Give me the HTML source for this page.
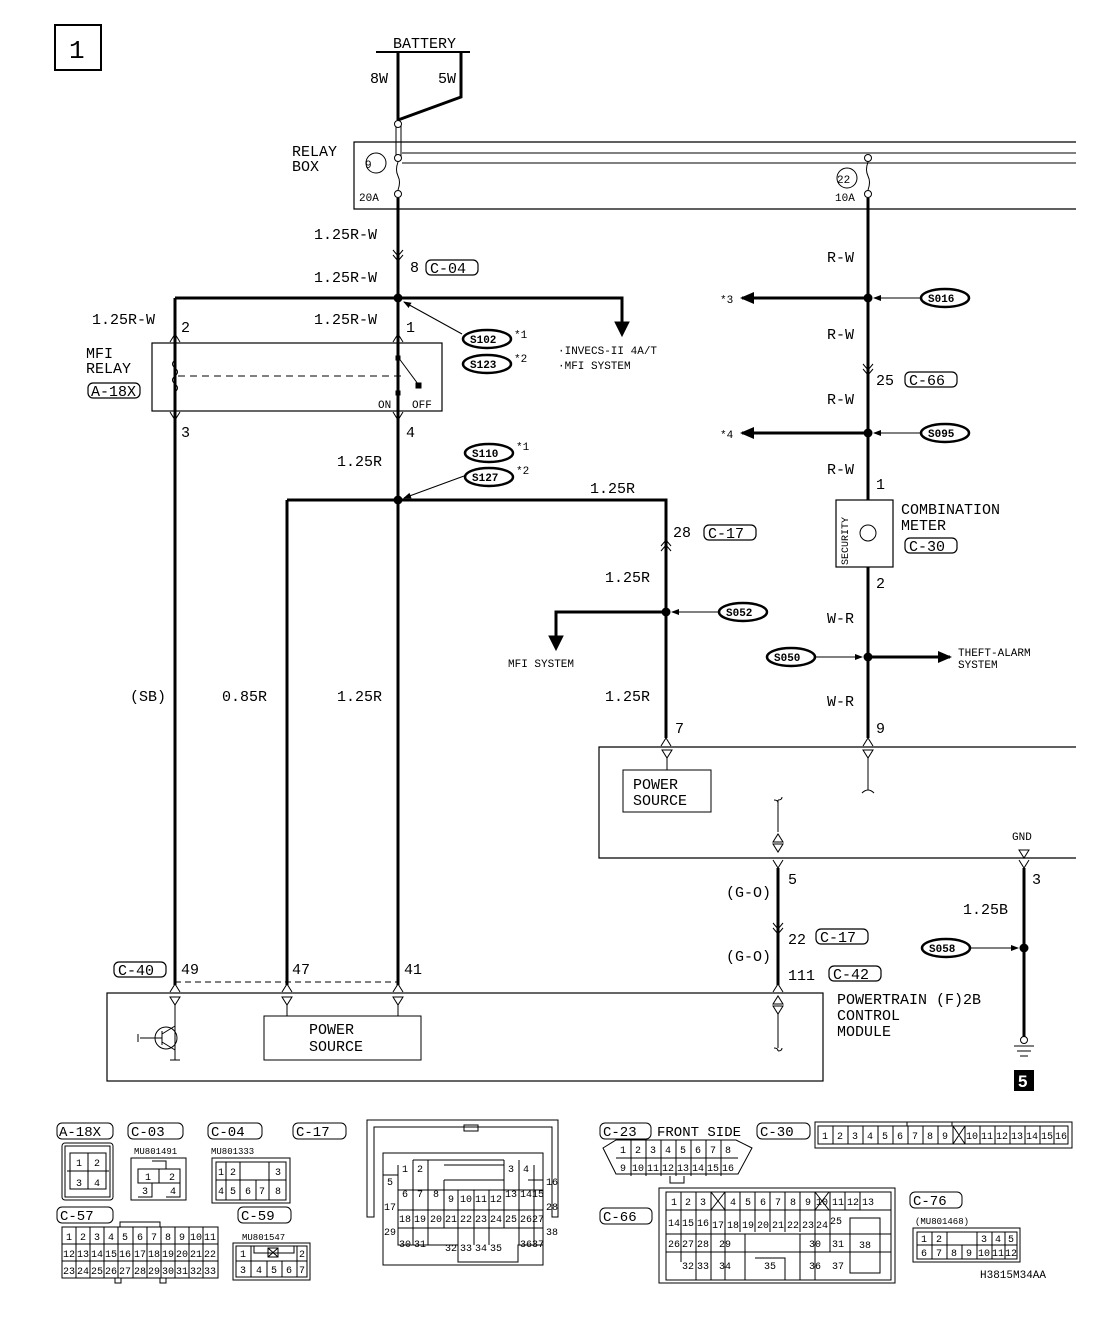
<!DOCTYPE html>
<html><head><meta charset="utf-8"><style>
html,body{margin:0;padding:0;background:#fff}
svg{display:block}
text{font-family:"Liberation Mono",monospace;fill:#000}
.t{font-size:15px}
.s{font-size:11px}
.c{font-size:10px;text-anchor:middle}
</style></head><body>
<svg width="1120" height="1318" viewBox="0 0 1120 1318" xmlns="http://www.w3.org/2000/svg">
<defs>
<marker id="ah" markerWidth="8" markerHeight="8" refX="7" refY="4" orient="auto" markerUnits="userSpaceOnUse"><path d="M0,1 L8,4 L0,7 z"/></marker>
<marker id="ab" markerWidth="14" markerHeight="12" refX="12" refY="6" orient="auto" markerUnits="userSpaceOnUse"><path d="M0,0 L14,6 L0,12 z"/></marker>
</defs>
<g fill="none" stroke="#000">
<!-- box 1 -->
<rect x="55" y="25" width="46" height="45" stroke-width="2"/>
<!-- battery -->
<line x1="376" y1="52" x2="470" y2="52" stroke-width="2"/>
<path d="M398,52 V120 M461,52 V97 L398,120" stroke-width="3"/>
<path d="M396,124 V157 M401,124 V157" stroke-width="1"/>
<circle cx="398" cy="124" r="3.5" fill="#fff"/>
<circle cx="398" cy="158" r="3.5" fill="#fff"/>
<circle cx="398" cy="194" r="3.5" fill="#fff"/>
<path d="M398,162 q-3,8 0,14 q3,6 0,14"/>
<!-- relay box -->
<path d="M1076,142 H354 V209 H1076" stroke-width="1.2"/>
<path d="M402,153 H1076 M402,163 H1076"/>
<circle cx="376" cy="163" r="10"/>
<circle cx="847" cy="178" r="10"/>
<circle cx="868" cy="158" r="3.5" fill="#fff"/>
<circle cx="868" cy="194" r="3.5" fill="#fff"/>
<path d="M868,162 q-3,8 0,14 q3,6 0,14"/>
<!-- main wires -->
<path d="M398,198 V985 M175,298 V985 M287,500 V985 M398,298 H622 V325 M287,500 H666 V738 M666,612 H556 V640 M868,198 V500 M868,567 V738 M778,868 V985 M1024,868 V1038" stroke-width="3"/>
<path d="M175,298 H398" stroke-width="3"/>
<path d="M615,322 L622,336 L629,322 z" fill="#000"/>
<path d="M549,636 L556,650 L563,636 z" fill="#000"/>
<line x1="868" y1="298" x2="742" y2="298" stroke-width="3" marker-end="url(#ab)"/>
<line x1="868" y1="433" x2="742" y2="433" stroke-width="3" marker-end="url(#ab)"/>
<line x1="868" y1="657" x2="950" y2="657" stroke-width="3" marker-end="url(#ab)"/>
<!-- wire markers -->
<path d="M393,250 l5,6 l5,-6 M393,255 l5,6 l5,-6 M661,546 l5,-6 l5,6 M661,551 l5,-6 l5,6 M863,364 l5,6 l5,-6 M863,369 l5,6 l5,-6 M773,923 l5,6 l5,-6 M773,928 l5,6 l5,-6"/>
<!-- connector forks -->
<path d="M170,342 l5,-8 l5,8 M393,342 l5,-8 l5,8 M170,412 l5,8 l5,-8 M393,412 l5,8 l5,-8 M661,746 l5,-8 l5,8 M863,746 l5,-8 l5,8 M773,860 l5,8 l5,-8 M1019,860 l5,8 l5,-8 M773,992 l5,-8 l5,8 M170,992 l5,-8 l5,8 M282,992 l5,-8 l5,8 M393,992 l5,-8 l5,8"/>
<!-- junction dots -->
<circle cx="398" cy="298" r="4" fill="#000"/>
<circle cx="398" cy="500" r="4" fill="#000"/>
<circle cx="666" cy="612" r="4" fill="#000"/>
<circle cx="868" cy="298" r="4" fill="#000"/>
<circle cx="868" cy="433" r="4" fill="#000"/>
<circle cx="868" cy="657" r="4" fill="#000"/>
<circle cx="1024" cy="948" r="4" fill="#000"/>
<!-- splice ellipses -->
<g stroke-width="2.5">
<ellipse cx="487" cy="339" rx="24" ry="9"/><ellipse cx="487" cy="364" rx="24" ry="9"/>
<ellipse cx="489" cy="453" rx="24" ry="9"/><ellipse cx="489" cy="477" rx="24" ry="9"/>
<ellipse cx="743" cy="612" rx="24" ry="9"/><ellipse cx="945" cy="298" rx="24" ry="9"/>
<ellipse cx="945" cy="433" rx="24" ry="9"/><ellipse cx="791" cy="657" rx="24" ry="9"/>
<ellipse cx="946" cy="948" rx="24" ry="9"/>
</g>
<line x1="462" y1="334" x2="404" y2="302" marker-end="url(#ah)"/>
<line x1="464" y1="476" x2="404" y2="498" marker-end="url(#ah)"/>
<line x1="718" y1="612" x2="672" y2="612" marker-end="url(#ah)"/>
<line x1="920" y1="298" x2="874" y2="298" marker-end="url(#ah)"/>
<line x1="920" y1="433" x2="874" y2="433" marker-end="url(#ah)"/>
<line x1="816" y1="657" x2="862" y2="657" marker-end="url(#ah)"/>
<line x1="971" y1="948" x2="1018" y2="948" marker-end="url(#ah)"/>
<!-- MFI relay -->
<rect x="152" y="343" width="290" height="68" stroke-width="1.2"/>
<path d="M175,350 v10 q-5,4 0,8 q5,4 0,8 q-5,4 0,8 q5,4 0,8 v10" />
<path d="M178,376 H402" stroke-dasharray="7,5"/>
<path d="M398,350 V357 L418,384 M398,390 V404"/>
<rect x="396" y="356" width="4" height="4" fill="#000"/><rect x="416" y="383" width="5" height="5" fill="#000"/><rect x="396" y="391" width="4" height="4" fill="#000"/>
<!-- combination meter -->
<rect x="836" y="500" width="57" height="67" stroke-width="1.2"/>
<circle cx="868" cy="533" r="8"/>
<!-- module top -->
<path d="M1076,747 H599 V858 H1076" stroke-width="1.2"/>
<rect x="623" y="770" width="88" height="42"/>
<path d="M662,750 h10 l-5,8 z M667,758 V770 M863,750 h10 l-5,8 z M868,758 V790 q-3,0 -6,3 M868,790 q3,0 6,3 M778,800 V832 M774,800 q4,0 4,3 M778,800 q4,0 4,-3 M773,842 h10 l-5,-8 z M773,844 h10 l-5,8 z M1019,850 h10 l-5,8 z"/>
<!-- PCM -->
<rect x="107" y="993" width="716" height="88" stroke-width="1.2"/>
<rect x="264" y="1016" width="157" height="44"/>
<path d="M175,982 H398" stroke-dasharray="6,4"/>
<path d="M170,997 h10 l-5,8 z M175,1005 V1050 M282,997 h10 l-5,8 z M287,1005 V1016 M393,997 h10 l-5,8 z M398,1005 V1016 M773,1004 h10 l-5,-8 z M773,1006 h10 l-5,8 z M778,1014 V1048 M774,1048 q4,0 4,3 M778,1051 q4,0 4,-3"/>
<circle cx="166" cy="1038" r="11"/>
<path d="M140,1038 H162 M162,1031 V1045 M162,1034 L175,1026 M162,1042 L175,1050 M175,1050 V1060 M170,1060 h10 M138,1034 v8"/>
<!-- ground -->
<circle cx="1024" cy="1040" r="3.5" fill="#fff"/>
<path d="M1014,1046 h20 M1017,1051 h14 M1020,1056 h8"/>
</g>
<rect x="1014" y="1070" width="20" height="21" fill="#000"/>
<text x="1018" y="1087" style="font-size:17px;font-weight:bold;fill:#fff;font-family:'Liberation Sans',sans-serif">5</text>

<!-- text -->
<g class="t">
<text x="69" y="58" style="font-size:26px">1</text>
<text x="393" y="48">BATTERY</text>
<text x="370" y="83">8W</text><text x="438" y="83">5W</text>
<text x="292" y="156">RELAY</text><text x="292" y="171">BOX</text>
<text x="314" y="239">1.25R-W</text>
<text x="410" y="272">8</text>
<text x="314" y="282">1.25R-W</text>
<text x="92" y="324">1.25R-W</text><text x="181" y="332">2</text>
<text x="314" y="324">1.25R-W</text><text x="406" y="332">1</text>
<text x="86" y="358">MFI</text><text x="86" y="373">RELAY</text>
<text x="181" y="437">3</text><text x="406" y="437">4</text>
<text x="337" y="466">1.25R</text>
<text x="590" y="493">1.25R</text>
<text x="673" y="537">28</text>
<text x="605" y="582">1.25R</text>
<text x="605" y="701">1.25R</text>
<text x="675" y="733">7</text>
<text x="130" y="701">(SB)</text><text x="222" y="701">0.85R</text><text x="337" y="701">1.25R</text>
<text x="827" y="262">R-W</text><text x="827" y="339">R-W</text>
<text x="876" y="385">25</text>
<text x="827" y="404">R-W</text><text x="827" y="474">R-W</text>
<text x="876" y="489">1</text>
<text x="901" y="514">COMBINATION</text><text x="901" y="530">METER</text>
<text x="876" y="588">2</text>
<text x="827" y="623">W-R</text><text x="827" y="706">W-R</text>
<text x="876" y="733">9</text>
<text x="633" y="789">POWER</text><text x="633" y="805">SOURCE</text>
<text x="788" y="884">5</text><text x="726" y="897">(G-O)</text>
<text x="788" y="944">22</text><text x="726" y="961">(G-O)</text>
<text x="788" y="980">111</text>
<text x="1032" y="884">3</text><text x="963" y="914">1.25B</text>
<text x="837" y="1004">POWERTRAIN (F)2B</text><text x="837" y="1020">CONTROL</text><text x="837" y="1036">MODULE</text>
<text x="181" y="974">49</text><text x="292" y="974">47</text><text x="404" y="974">41</text>
<text x="309" y="1034">POWER</text><text x="309" y="1051">SOURCE</text>
</g>
<!-- boxed labels -->
<g fill="none" stroke="#000" stroke-width="1.2">
<rect x="426" y="260" width="52" height="15" rx="5"/>
<rect x="88" y="383" width="52" height="15" rx="5"/>
<rect x="704" y="525" width="52" height="15" rx="5"/>
<rect x="905" y="372" width="52" height="15" rx="5"/>
<rect x="905" y="538" width="52" height="15" rx="5"/>
<rect x="816" y="929" width="52" height="15" rx="5"/>
<rect x="829" y="966" width="52" height="15" rx="5"/>
<rect x="114" y="962" width="52" height="15" rx="5"/>
</g>
<g class="t">
<text x="430" y="273">C-04</text><text x="91" y="396">A-18X</text><text x="708" y="538">C-17</text>
<text x="909" y="385">C-66</text><text x="909" y="551">C-30</text><text x="820" y="942">C-17</text>
<text x="833" y="979">C-42</text><text x="118" y="975">C-40</text>
</g>
<g class="s">
<text x="365" y="168">9</text><text x="359" y="201">20A</text>
<text x="837" y="183">22</text><text x="835" y="201">10A</text>
<text x="470" y="343" font-weight="bold">S102</text><text x="470" y="368" font-weight="bold">S123</text>
<text x="514" y="338">*1</text><text x="514" y="362">*2</text>
<text x="472" y="457" font-weight="bold">S110</text><text x="472" y="481" font-weight="bold">S127</text>
<text x="516" y="450">*1</text><text x="516" y="474">*2</text>
<text x="558" y="354">·INVECS-II 4A/T</text><text x="558" y="369">·MFI SYSTEM</text>
<text x="508" y="667">MFI SYSTEM</text>
<text x="726" y="616" font-weight="bold">S052</text>
<text x="928" y="302" font-weight="bold">S016</text><text x="928" y="437" font-weight="bold">S095</text>
<text x="774" y="661" font-weight="bold">S050</text><text x="929" y="952" font-weight="bold">S058</text>
<text x="720" y="303">*3</text><text x="720" y="438">*4</text>
<text x="958" y="656">THEFT-ALARM</text><text x="958" y="668">SYSTEM</text>
<text x="378" y="408">ON</text><text x="412" y="408">OFF</text>
<text x="1012" y="840">GND</text>
<text x="848" y="565" transform="rotate(-90 848 565)" style="font-size:10px">SECURITY</text>
<text x="980" y="1278">H3815M34AA</text>
</g>

<!-- bottom connectors -->
<g fill="none" stroke="#000" stroke-width="1">
<rect x="57" y="1123" width="56" height="16" rx="5"/><rect x="128" y="1123" width="55" height="16" rx="5"/><rect x="208" y="1123" width="54" height="16" rx="5"/><rect x="293" y="1123" width="53" height="16" rx="5"/>
<rect x="57" y="1207" width="56" height="16" rx="5"/><rect x="238" y="1207" width="53" height="16" rx="5"/>
<rect x="600" y="1123" width="51" height="16" rx="5"/><rect x="757" y="1123" width="53" height="16" rx="5"/>
<rect x="600" y="1208" width="52" height="16" rx="5"/><rect x="910" y="1192" width="52" height="16" rx="5"/>
<!-- A-18X -->
<rect x="62" y="1143" width="51" height="57" rx="3"/><rect x="65" y="1146" width="45" height="51"/>
<path d="M70,1153 h36 v36 h-36 z M88,1153 v36 M67,1171 h42"/>
<!-- C-03 -->
<path d="M131,1158 h55 v42 h-55 z M152,1161 h14 v8 M138,1169 h42 v14 h-42 z M159,1169 v14 M138,1183 h14 v14 h-14 M166,1183 h14 v14 h-14"/>
<!-- C-04 -->
<path d="M212,1158 h78 v45 h-78 z M216,1162 h70 v38 h-70 z M216,1180 h70 M226,1162 v38 M240,1162 v38 M256,1180 v20 M269,1162 v38"/>
<!-- C-17 -->
<path d="M367,1120 h191 v97 h-6 v-90 h-178 v90 h-7 z M464,1131 h14 v-6 h-14 z"/>
<rect x="383" y="1153" width="160" height="112"/>
<path d="M398,1165 V1245 h60 V1262 h60 V1245 h25 M398,1190 h145 M398,1210 h145 M398,1228 h145 M413,1160 v85 M428,1160 v85 M444,1180 v48 M458,1190 v38 M474,1190 v38 M489,1190 v38 M504,1160 v68 M519,1160 v85 M534,1165 v80 M413,1160 h91 M444,1165 h60 v15 h-60 M458,1228 v17 M474,1228 v17 M489,1228 v17 M383,1175 h15 M528,1180 h15"/>
<!-- C-57 -->
<path d="M62,1227 h156 v51 h-156 z M62,1244 h156 M62,1261 h156 M120,1227 v-5 h40 v5 M115,1278 v5 h6 v-5 M160,1278 v5 h6 v-5"/>
<path d="M76,1227v51M90,1227v51M104,1227v51M118,1227v51M133,1227v51M147,1227v51M161,1227v51M175,1227v51M189,1227v51M203,1227v51"/>
<!-- C-59 -->
<path d="M233,1243 h77 v37 h-77 z M236,1246 h71 v31 h-71 z M236,1261 h71 M251,1246 v31 M297,1246 v31 M267,1261 v16 M282,1261 v16 M254,1246 v7 h40 v-7 M268,1248 h10 v9 h-10 z M268,1248 l10,9 M278,1248 l-10,9"/>
<!-- C-23 -->
<path d="M616,1140 h120 l16,8 l-14,26 h-122 l-13,-26 z M616,1158 h122 M631,1140v36M646,1140v36M661,1140v36M676,1140v36M691,1140v36M706,1140v36M721,1140v36 M670,1176 v7 h14 v-7"/>
<!-- C-30 -->
<path d="M815,1122 h257 v26 h-257 z M818,1126 h250 v18 h-250 z M833,1126v18M848,1126v18M863,1126v18M878,1126v18M893,1126v18M908,1126v18M923,1126v18M938,1126v18M953,1126v18M965,1126v18M980,1126v18M995,1126v18M1010,1126v18M1025,1126v18M1040,1126v18M1054,1126v18 M953,1126 l12,18 M965,1126 l-12,18 M907,1122 v4 h45 v-4"/>
<!-- C-66 -->
<path d="M659,1188 h236 v95 h-236 z M666,1192 h225 v88 h-225 z M666,1210 h225 M666,1234 h225 M666,1252 h225 M681,1192v70 M696,1192v88 M711,1192v88 M725,1192 v88 M740,1192v40 M755,1192v40 M770,1192v40 M785,1192v40 M800,1192v40 M815,1192v88 M830,1192v18 M845,1192v18 M860,1192v18 M830,1210v42 M745,1234v46 M755,1258 h30 v22 M800,1234 v46 M711,1192 l14,18 M725,1192 l-14,18 M815,1192 l14,18 M829,1192 l-14,18 M850,1218 h30 v55 h-30 z"/>
<!-- C-76 -->
<path d="M913,1228 h107 v34 h-107 z M917,1232 h100 v27 h-100 z M917,1245 h100 M932,1232v27 M947,1232v27 M962,1245v14 M977,1232v27 M992,1232v27 M1005,1232v27"/>
</g>
<g class="t" style="font-size:14px">
<text x="59" y="1136">A-18X</text><text x="131" y="1136">C-03</text><text x="211" y="1136">C-04</text><text x="296" y="1136">C-17</text>
<text x="60" y="1220">C-57</text><text x="241" y="1220">C-59</text>
<text x="603" y="1136">C-23</text><text x="657" y="1136">FRONT SIDE</text><text x="760" y="1136">C-30</text>
<text x="603" y="1221">C-66</text><text x="913" y="1205">C-76</text>
</g>
<g style="font-size:9px">
<text x="134" y="1154">MU801491</text><text x="211" y="1154">MU801333</text><text x="242" y="1240">MU801547</text><text x="915" y="1224">(MU801468)</text>
</g>
<g class="c">
<text x="79" y="1166">1</text><text x="97" y="1166">2</text><text x="79" y="1186">3</text><text x="97" y="1186">4</text>
<text x="148" y="1180">1</text><text x="172" y="1180">2</text><text x="145" y="1194">3</text><text x="173" y="1194">4</text>
<text x="221" y="1175">1</text><text x="233" y="1175">2</text><text x="278" y="1175">3</text><text x="221" y="1194">4</text><text x="233" y="1194">5</text><text x="248" y="1194">6</text><text x="262" y="1194">7</text><text x="278" y="1194">8</text>
<text x="69" y="1240">1</text><text x="83" y="1240">2</text><text x="97" y="1240">3</text><text x="111" y="1240">4</text><text x="125" y="1240">5</text><text x="140" y="1240">6</text><text x="154" y="1240">7</text><text x="168" y="1240">8</text><text x="182" y="1240">9</text><text x="196" y="1240">10</text><text x="210" y="1240">11</text>
<text x="69" y="1257">12</text><text x="83" y="1257">13</text><text x="97" y="1257">14</text><text x="111" y="1257">15</text><text x="125" y="1257">16</text><text x="140" y="1257">17</text><text x="154" y="1257">18</text><text x="168" y="1257">19</text><text x="182" y="1257">20</text><text x="196" y="1257">21</text><text x="210" y="1257">22</text>
<text x="69" y="1274">23</text><text x="83" y="1274">24</text><text x="97" y="1274">25</text><text x="111" y="1274">26</text><text x="125" y="1274">27</text><text x="140" y="1274">28</text><text x="154" y="1274">29</text><text x="168" y="1274">30</text><text x="182" y="1274">31</text><text x="196" y="1274">32</text><text x="210" y="1274">33</text>
<text x="243" y="1257">1</text><text x="302" y="1257">2</text><text x="243" y="1273">3</text><text x="259" y="1273">4</text><text x="274" y="1273">5</text><text x="289" y="1273">6</text><text x="302" y="1273">7</text>
<text x="623" y="1153">1</text><text x="638" y="1153">2</text><text x="653" y="1153">3</text><text x="668" y="1153">4</text><text x="683" y="1153">5</text><text x="698" y="1153">6</text><text x="713" y="1153">7</text><text x="728" y="1153">8</text>
<text x="623" y="1171">9</text><text x="638" y="1171">10</text><text x="653" y="1171">11</text><text x="668" y="1171">12</text><text x="683" y="1171">13</text><text x="698" y="1171">14</text><text x="713" y="1171">15</text><text x="728" y="1171">16</text>
<text x="825" y="1139">1</text><text x="840" y="1139">2</text><text x="855" y="1139">3</text><text x="870" y="1139">4</text><text x="885" y="1139">5</text><text x="900" y="1139">6</text><text x="915" y="1139">7</text><text x="930" y="1139">8</text><text x="945" y="1139">9</text><text x="972" y="1139">10</text><text x="987" y="1139">11</text><text x="1002" y="1139">12</text><text x="1017" y="1139">13</text><text x="1032" y="1139">14</text><text x="1047" y="1139">15</text><text x="1061" y="1139">16</text>
<text x="674" y="1205">1</text><text x="688" y="1205">2</text><text x="703" y="1205">3</text><text x="733" y="1205">4</text><text x="748" y="1205">5</text><text x="763" y="1205">6</text><text x="778" y="1205">7</text><text x="793" y="1205">8</text><text x="808" y="1205">9</text><text x="822" y="1205">10</text><text x="838" y="1205">11</text><text x="853" y="1205">12</text><text x="868" y="1205">13</text>
<text x="674" y="1226">14</text><text x="688" y="1226">15</text><text x="703" y="1226">16</text><text x="718" y="1228">17</text><text x="733" y="1228">18</text><text x="748" y="1228">19</text><text x="763" y="1228">20</text><text x="778" y="1228">21</text><text x="793" y="1228">22</text><text x="808" y="1228">23</text><text x="822" y="1228">24</text><text x="836" y="1224">25</text>
<text x="674" y="1247">26</text><text x="688" y="1247">27</text><text x="703" y="1247">28</text><text x="725" y="1247">29</text><text x="815" y="1247">30</text><text x="838" y="1247">31</text>
<text x="688" y="1269">32</text><text x="703" y="1269">33</text><text x="725" y="1269">34</text><text x="770" y="1269">35</text><text x="815" y="1269">36</text><text x="838" y="1269">37</text><text x="865" y="1248">38</text>
<text x="924" y="1242">1</text><text x="939" y="1242">2</text><text x="984" y="1242">3</text><text x="998" y="1242">4</text><text x="1011" y="1242">5</text>
<text x="924" y="1256">6</text><text x="939" y="1256">7</text><text x="954" y="1256">8</text><text x="969" y="1256">9</text><text x="984" y="1256">10</text><text x="998" y="1256">11</text><text x="1011" y="1256">12</text>
<text x="405" y="1172">1</text><text x="420" y="1172">2</text><text x="511" y="1172">3</text><text x="526" y="1172">4</text>
<text x="390" y="1185">5</text><text x="405" y="1197">6</text><text x="420" y="1197">7</text><text x="436" y="1197">8</text><text x="451" y="1202">9</text><text x="466" y="1202">10</text><text x="481" y="1202">11</text><text x="496" y="1202">12</text><text x="511" y="1197">13</text><text x="526" y="1197">14</text><text x="538" y="1197">15</text><text x="552" y="1185">16</text>
<text x="390" y="1210">17</text><text x="405" y="1222">18</text><text x="420" y="1222">19</text><text x="436" y="1222">20</text><text x="451" y="1222">21</text><text x="466" y="1222">22</text><text x="481" y="1222">23</text><text x="496" y="1222">24</text><text x="511" y="1222">25</text><text x="526" y="1222">26</text><text x="538" y="1222">27</text><text x="552" y="1210">28</text>
<text x="390" y="1235">29</text><text x="405" y="1247">30</text><text x="420" y="1247">31</text><text x="451" y="1251">32</text><text x="466" y="1251">33</text><text x="481" y="1251">34</text><text x="496" y="1251">35</text><text x="526" y="1247">36</text><text x="538" y="1247">37</text><text x="552" y="1235">38</text>
</g>
</svg>
</body></html>
